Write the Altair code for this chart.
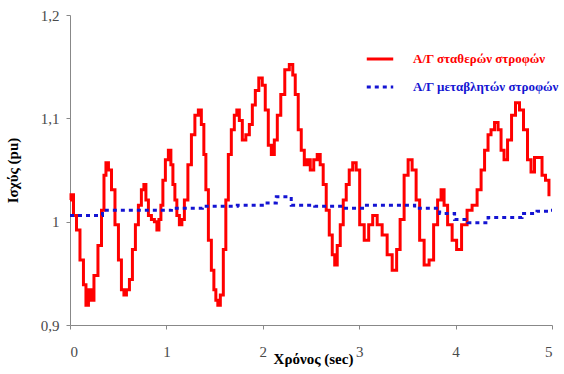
import altair as alt
import pandas as pd

# Red series: constant-speed wind generator (time in sec, power in pu)
t_fixed = [0.000, 0.021, 0.052, 0.083, 0.124, 0.155, 0.176, 0.207, 0.228, 0.269,
           0.311, 0.342, 0.363, 0.383, 0.415, 0.446, 0.487, 0.518, 0.549, 0.570,
           0.601, 0.632, 0.663, 0.694, 0.725, 0.756, 0.777, 0.798, 0.829, 0.860,
           0.891, 0.912, 0.933, 0.953, 0.974, 1.005, 1.036, 1.057, 1.078, 1.098,
           1.119, 1.150, 1.171, 1.202, 1.244, 1.275, 1.316, 1.347, 1.378, 1.399,
           1.420, 1.451, 1.482, 1.503, 1.523, 1.544, 1.575, 1.606, 1.627, 1.658,
           1.689, 1.720, 1.741, 1.772, 1.803, 1.845, 1.876, 1.907, 1.938, 1.979,
           2.010, 2.041, 2.073, 2.104, 2.135, 2.166, 2.207, 2.249, 2.301, 2.321,
           2.352, 2.383, 2.415, 2.446, 2.477, 2.508, 2.549, 2.580, 2.611, 2.642,
           2.674, 2.705, 2.736, 2.756, 2.788, 2.819, 2.850, 2.881, 2.912, 2.953,
           2.984, 3.026, 3.078, 3.119, 3.161, 3.212, 3.264, 3.316, 3.368, 3.409,
           3.440, 3.492, 3.523, 3.575, 3.606, 3.648, 3.699, 3.751, 3.793, 3.834,
           3.865, 3.896, 3.938, 3.990, 4.031, 4.093, 4.145, 4.197, 4.249, 4.280,
           4.321, 4.352, 4.383, 4.425, 4.456, 4.487, 4.518, 4.560, 4.601, 4.642,
           4.684, 4.725, 4.767, 4.798, 4.839, 4.881, 4.912, 4.953, 4.984]
p_fixed = [1.021, 1.026, 1.006, 0.992, 0.963, 0.939, 0.919, 0.934, 0.924, 0.948,
           0.977, 1.011, 1.045, 1.057, 1.050, 1.031, 0.997, 0.963, 0.934, 0.929,
           0.934, 0.944, 0.973, 0.997, 1.016, 1.031, 1.036, 1.021, 1.006, 1.002,
           1.000, 0.992, 1.002, 1.016, 1.040, 1.060, 1.069, 1.055, 1.036, 1.021,
           1.006, 0.997, 1.002, 1.021, 1.055, 1.084, 1.103, 1.108, 1.094, 1.065,
           1.031, 0.982, 0.953, 0.934, 0.924, 0.919, 0.929, 0.973, 1.021, 1.065,
           1.089, 1.103, 1.108, 1.098, 1.079, 1.084, 1.094, 1.113, 1.127, 1.139,
           1.132, 1.108, 1.074, 1.065, 1.079, 1.103, 1.123, 1.147, 1.152, 1.142,
           1.123, 1.089, 1.069, 1.055, 1.060, 1.050, 1.060, 1.065, 1.055, 1.036,
           1.011, 0.987, 0.968, 0.958, 0.977, 0.997, 1.021, 1.036, 1.050, 1.057,
           1.050, 0.997, 0.982, 0.997, 1.006, 0.997, 0.987, 0.968, 0.953, 0.973,
           1.002, 1.045, 1.060, 1.050, 1.021, 0.982, 0.958, 0.963, 0.997, 1.021,
           1.031, 1.016, 0.997, 0.982, 0.973, 0.997, 1.011, 1.016, 1.031, 1.050,
           1.069, 1.084, 1.089, 1.096, 1.089, 1.069, 1.060, 1.079, 1.103, 1.115,
           1.108, 1.089, 1.060, 1.048, 1.062, 1.062, 1.045, 1.040, 1.026]

# Blue series: variable-speed wind generator
t_var = [0.000, 0.104, 0.570, 0.912, 1.192, 1.554, 1.917, 2.073, 2.207, 2.383,
         2.694, 2.953, 3.161, 3.420, 3.731, 3.938, 4.041, 4.218, 4.456, 4.611,
         4.767, 4.922, 5.000]
p_var = [1.006, 1.006, 1.011, 1.011, 1.013, 1.015, 1.016, 1.018, 1.024, 1.016,
         1.015, 1.013, 1.016, 1.016, 1.013, 1.008, 1.002, 0.999, 1.004, 1.004,
         1.008, 1.010, 1.011]

name_fixed = "Α/Γ σταθερών στροφών"
name_var = "Α/Γ μεταβλητών στροφών"

df = pd.concat([
    pd.DataFrame({"t": t_fixed, "p": p_fixed, "s": name_fixed, "o": range(len(t_fixed))}),
    pd.DataFrame({"t": t_var, "p": p_var, "s": name_var, "o": range(len(t_var))}),
])

FONT = "Liberation Serif"

chart = alt.Chart(df).mark_line(strokeWidth=3, interpolate="step").encode(
    x=alt.X("t:Q", scale=alt.Scale(domain=[0, 5], nice=False),
            axis=alt.Axis(title="Χρόνος (sec)", values=[0, 1, 2, 3, 4, 5],
                          grid=False, tickSize=4, labelPadding=15,
                          titleX=243, titleY=33, titleBaseline="middle",
                          titleFontSize=15, titleFontWeight="bold")),
    y=alt.Y("p:Q", scale=alt.Scale(domain=[0.9, 1.2], nice=False, zero=False),
            axis=alt.Axis(title="Ισχύς (pu)", values=[0.9, 1.0, 1.1, 1.2],
                          labelExpr="replace(toString(datum.value), '.', ',')",
                          grid=False, tickSize=4, labelPadding=7,
                          titleX=-50, titleY=155, titleAngle=-90,
                          titleFontSize=15, titleFontWeight="bold")),
    color=alt.Color("s:N", scale=alt.Scale(domain=[name_fixed, name_var],
                                          range=["#ff0000", "#1414d2"]),
                    legend=alt.Legend(title=None, orient="none", legendX=295, legendY=29,
                                      symbolType="stroke", symbolSize=700,
                                      symbolStrokeWidth=3, labelFont=FONT,
                                      labelFontSize=13, labelFontWeight="bold",
                                      labelOffset=18, rowPadding=6,
                                      labelColor={"expr": "datum.label == '" + name_fixed + "' ? '#ff0000' : '#1414d2'"})),
    strokeDash=alt.StrokeDash("s:N", scale=alt.Scale(domain=[name_fixed, name_var],
                                                     range=[[1, 0], [4, 4]]),
                              legend=None),
    order="o:Q",
).properties(
    width=482, height=310,
    autosize=alt.AutoSizeParams(type="none"),
    padding={"left": 70, "top": 15, "right": 12, "bottom": 49},
).configure_view(stroke=None).configure_axis(
    labelFont=FONT, titleFont=FONT, labelFontSize=15, labelColor="#4a4a4a",
    domainColor="#888888", tickColor="#888888", titleColor="#000000",
)

chart.save("out.html", embed_options={"renderer": "svg", "actions": False})
